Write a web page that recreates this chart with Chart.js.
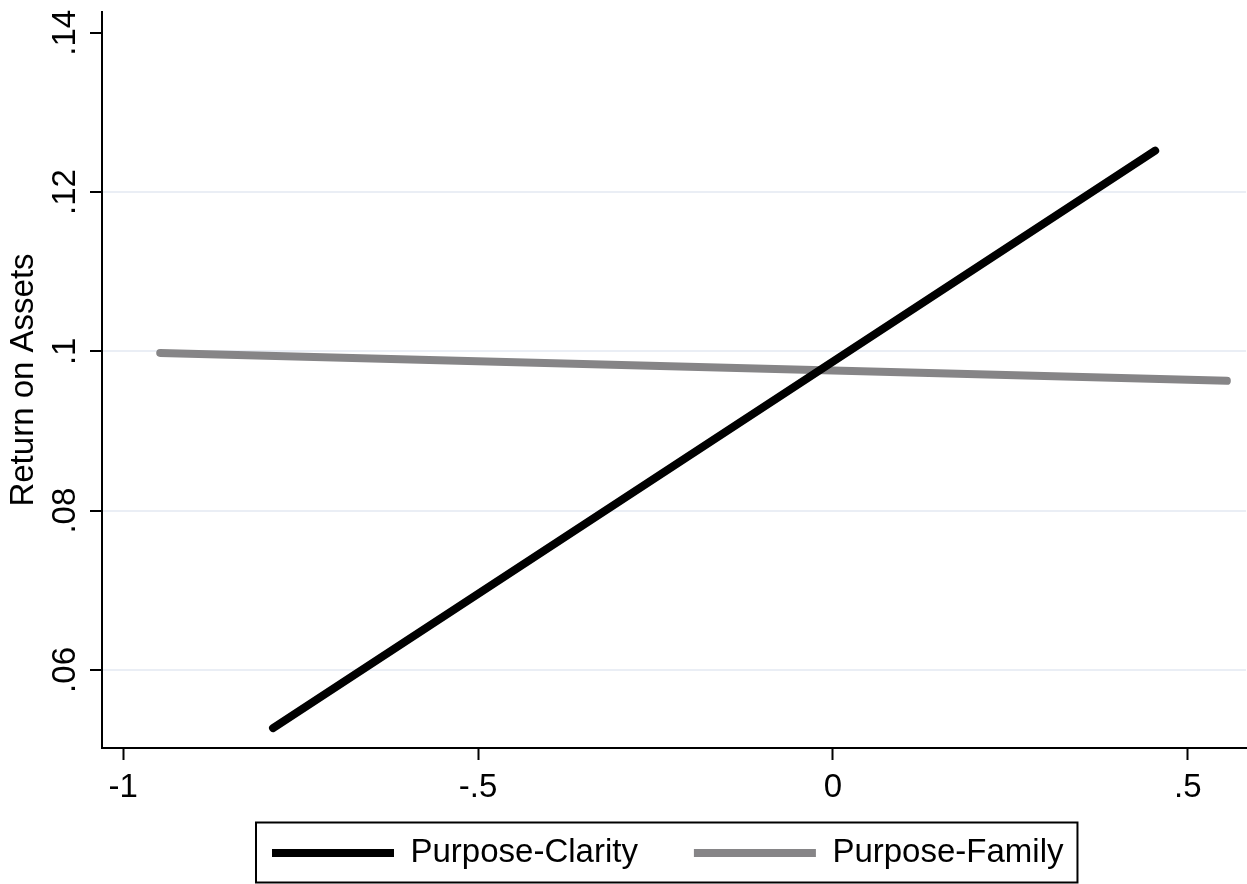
<!DOCTYPE html>
<html>
<head>
<meta charset="utf-8">
<script src="https://cdn.jsdelivr.net/npm/chart.js@4"></script>
<style>
  html, body { margin: 0; padding: 0; background: #ffffff; }
  canvas { display: block; }
</style>
</head>
<body>
<canvas id="c" width="1247" height="884"></canvas>
<script>
// ---- data ----
const seriesNames = ['Purpose-Clarity', 'Purpose-Family'];
const clarityX = [-0.789, 0.454];
const clarityY = [0.0527, 0.1252];
const familyX = [-0.948, 0.555];
const familyY = [0.0998, 0.0963];
const xTicks = [-1, -0.5, 0, 0.5];
const xTickLabels = ['-1', '-.5', '0', '.5'];
const yTicks = [0.06, 0.08, 0.10, 0.12, 0.14];
const yTickLabels = ['.06', '.08', '.1', '.12', '.14'];
const yTitle = 'Return on Assets';

const FONT = "'Liberation Sans', Arial, sans-serif";
const FS = 33;
const LEG_PAD = 56;

const pts = (xs, ys) => xs.map((x, i) => ({ x: x, y: ys[i] }));
const labelFor = (ticks, labels, v) => {
  const i = ticks.findIndex(t => Math.abs(t - v) < 1e-9);
  return i >= 0 ? labels[i] : '';
};

const legendBox = {
  id: 'legendBox',
  afterLayout(chart) {
    // let the x tick labels extend below the (compact) scale box
    const xs = chart.scales.x;
    if (xs) { xs.bottom = xs.top + 80; xs.height = 80; }
    const lg = chart.legend;
    if (!lg || !lg.lineWidths) return;
    const span = lg.lineWidths[0] - LEG_PAD;
    const start = 272;
    lg.left = 0;
    lg.right = 2 * start + span;
    lg.width = lg.right - lg.left;
    lg.top = 853 - LEG_PAD - FS / 2;
    lg.bottom = lg.top + lg.height;
  },
  afterDraw(chart) {
    const h = chart.legend && chart.legend.legendHitBoxes;
    if (!h || !h.length) return;
    const first = h[0], last = h[h.length - 1];
    const l = first.left - 16, r = last.left + last.width + 14;
    const t = first.top - 14, b = first.top + first.height + 13;
    const ctx = chart.ctx;
    ctx.save();
    ctx.strokeStyle = '#000';
    ctx.lineWidth = 2;
    ctx.strokeRect(l, t, r - l, b - t);
    ctx.restore();
  }
};

new Chart(document.getElementById('c'), {
  type: 'line',
  data: {
    datasets: [
      {
        label: seriesNames[0],
        data: pts(clarityX, clarityY),
        borderColor: '#000000',
        backgroundColor: '#000000',
        borderWidth: 8,
        borderCapStyle: 'round',
        pointRadius: 0,
        fill: false,
        tension: 0
      },
      {
        label: seriesNames[1],
        data: pts(familyX, familyY),
        borderColor: '#868587',
        backgroundColor: '#868587',
        borderWidth: 8,
        borderCapStyle: 'round',
        pointRadius: 0,
        fill: false,
        tension: 0
      }
    ]
  },
  options: {
    responsive: false,
    animation: false,
    layout: { padding: { top: 12, left: 0, right: 1, bottom: 0 } },
    scales: {
      x: {
        type: 'linear',
        min: -1.030,
        max: 0.582,
        afterBuildTicks: s => { s.ticks = xTicks.map(v => ({ value: v })); },
        afterFit: s => { s.height = 884 - 748 - (FS + LEG_PAD + 10); s.paddingLeft = 0; s.paddingRight = 0; },
        grid: {
          display: true, drawOnChartArea: false, drawTicks: true,
          tickLength: 12, tickColor: '#000', tickWidth: 2
        },
        border: { display: true, color: '#000', width: 2 },
        ticks: {
          font: { family: FONT, size: FS }, color: '#000', padding: 8,
          maxRotation: 0, minRotation: 0, autoSkip: false,
          callback: v => labelFor(xTicks, xTickLabels, v)
        }
      },
      y: {
        type: 'linear',
        min: 0.0502,
        max: 0.1426,
        afterBuildTicks: s => { s.ticks = yTicks.map(v => ({ value: v })); },
        afterFit: s => { s.width = 102; s.paddingTop = 0; s.paddingBottom = 0; },
        grid: {
          color: c => (c.tick && c.tick.value > 0.139) ? 'rgba(0,0,0,0)' : '#eaeef5',
          lineWidth: 2, drawTicks: true, tickLength: 12, tickColor: '#000', tickWidth: 2
        },
        border: { display: true, color: '#000', width: 2 },
        ticks: {
          font: { family: FONT, size: FS }, color: '#000', padding: 1,
          minRotation: 90, maxRotation: 90, crossAlign: 'center', autoSkip: false,
          callback: v => labelFor(yTicks, yTickLabels, v)
        },
        title: {
          display: true, text: yTitle, color: '#000',
          font: { family: FONT, size: FS }, padding: { top: 4, bottom: 0 }
        }
      }
    },
    plugins: {
      tooltip: { enabled: false },
      legend: {
        display: true,
        position: 'bottom',
        labels: {
          usePointStyle: true,
          pointStyle: 'line',
          pointStyleWidth: 122,
          color: '#000',
          font: { family: FONT, size: FS },
          padding: LEG_PAD
        }
      }
    }
  },
  plugins: [legendBox]
});
</script>
</body>
</html>
